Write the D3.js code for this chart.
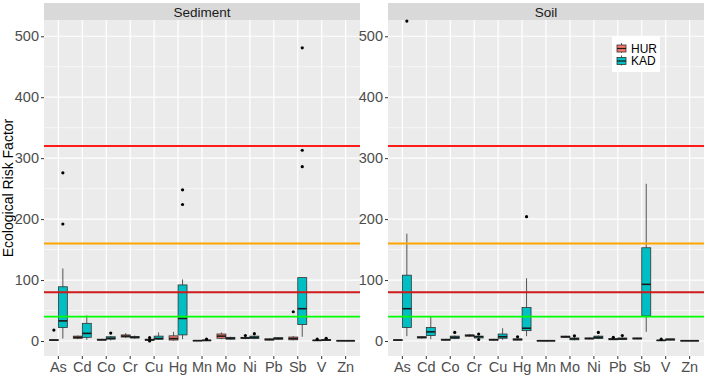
<!DOCTYPE html>
<html>
<head>
<meta charset="utf-8">
<script src="https://cdn.jsdelivr.net/npm/d3@7"></script>
<style>
  body { margin: 0; background: #fff; }
  text { font-family: "Liberation Sans", Arial, sans-serif; }
</style>
</head>
<body>
<svg width="706" height="377"></svg>
<script>
// elements on x axis
var elements = ["As", "Cd", "Co", "Cr", "Cu", "Hg", "Mn", "Mo", "Ni", "Pb", "Sb", "V", "Zn"];
var groups = ["HUR", "KAD"];
var facets = ["Sediment", "Soil"];

// box stats per element: [lower whisker, q1, median, q3, upper whisker]
var sedHUR = [[0.5,1,1.5,2,2.5],[3,4.5,6,8,9],[1,1.5,2,3,3.5],[5,6.5,8,10,13],[0.5,1,2,3,4],[0.5,1.6,4,8.5,15],
  [0,0.3,0.6,1,1.5],[3,4.5,8,11.5,14],[3,4,5,6,7],[1,1.5,2.5,3.5,4],[1,2,4,6.5,8],[0.3,0.6,1,1.4,2],[0.2,0.4,0.5,0.7,0.9]];
var sedKAD = [[4,22,33,89,119],[2,6,12.5,29,42],[1,3,4.5,7,8],[4,5,6,7.5,9],[2,3,4,8,14],[3,10,37,92,101],
  [0,0.5,1,1.5,2],[2,3,4.5,6,7],[3,4,6,8,9],[2,3,4,5.5,6],[7,27,53,104,104],[0.5,1,1.5,2.5,3],[0.2,0.4,0.5,0.7,0.9]];
var soilHUR = [[0.5,1,1.5,2,3],[4,5,6,7,7.5],[1,1.5,2,3,3.5],[7,8,9,10,11.5],[1,1.5,2,3,3.5],[1,1.5,2.5,3.5,4],
  [0.2,0.3,0.5,0.7,1],[5,6,7,8,8.5],[3,3.5,4,5,5.5],[1.5,2,3,4,4.5],[3,3.5,4,5,5.5],[0.3,0.6,1,1.4,2],[0.2,0.4,0.5,0.7,0.9]];
var soilKAD = [[8,22,53,108,176],[3,9,15,22,40],[3,4,6,8,9],[4,5,7,8,9],[2,4.5,7,11.5,21],[8,17,21,55,103],
  [0.2,0.3,0.5,0.7,1],[1,2,3.5,5,6],[3,4,6,8,9],[1.5,2.5,3.5,5,6],[15,41,93,153,258],[1,1.5,2.5,3.5,4],[0.2,0.4,0.5,0.7,0.9]];

// outliers per element
var sedHUROut = [[18],[],[],[],[0,5.5],[],[],[],[9],[],[48],[3],[]];
var sedKADOut = [[192,276],[],[13],[],[],[224,248],[3],[],[12],[],[286,313,481],[4.5],[]];
var soilHUROut = [[],[],[],[],[],[7],[],[],[],[6],[],[3],[]];
var soilKADOut = [[525],[],[14],[11.5,2.5],[],[204],[],[8.5],[14],[9],[],[],[]];

// horizontal reference lines
var refValues = [320, 160, 80, 40];
var refColors = ["#FF1A1A", "#FFA500", "#D01A1A", "#00FF00"];

var yTicks = [0, 100, 200, 300, 400, 500];
var yMinor = [50, 150, 250, 350, 450];

var groupColors = {HUR: "#F8766D", KAD: "#00BFC4"};

var svg = d3.select("svg");

var panelTop = 20, panelBottom = 356, stripTop = 3;
var panels = [{name: "Sediment", x0: 44, x1: 360, data: {HUR: sedHUR, KAD: sedKAD}, out: {HUR: sedHUROut, KAD: sedKADOut}},
              {name: "Soil", x0: 388, x1: 704, data: {HUR: soilHUR, KAD: soilKAD}, out: {HUR: soilHUROut, KAD: soilKADOut}}];

var y = d3.scaleLinear().domain([-24.6, 526.7]).range([panelBottom, panelTop]);

panels.forEach(function(p, pi) {
  var g = svg.append("g");

  var x = d3.scaleBand().domain(elements).range([p.x0, p.x1]).paddingOuter(0.1).paddingInner(0);
  var xg = d3.scaleBand().domain(groups).range([0, x.bandwidth() * 0.75]);

  // strip
  g.append("rect").attr("x", p.x0).attr("y", stripTop).attr("width", p.x1 - p.x0).attr("height", panelTop - stripTop)
    .attr("fill", "#D9D9D9");
  g.append("text").attr("x", (p.x0 + p.x1) / 2).attr("y", (stripTop + panelTop) / 2 + 5)
    .attr("text-anchor", "middle").attr("font-size", 13.5).attr("fill", "#1A1A1A").text(p.name);

  // panel
  g.append("rect").attr("x", p.x0).attr("y", panelTop).attr("width", p.x1 - p.x0).attr("height", panelBottom - panelTop)
    .attr("fill", "#EBEBEB");

  g.selectAll(".minor").data(yMinor).enter().append("line")
    .attr("x1", p.x0).attr("x2", p.x1).attr("y1", y).attr("y2", y)
    .attr("stroke", "#fff").attr("stroke-width", 0.6);
  g.selectAll(".major").data(yTicks).enter().append("line")
    .attr("x1", p.x0).attr("x2", p.x1).attr("y1", y).attr("y2", y)
    .attr("stroke", "#fff").attr("stroke-width", 1.2);
  g.selectAll(".vmajor").data(elements).enter().append("line")
    .attr("x1", function(d) { return x(d) + x.bandwidth() / 2; })
    .attr("x2", function(d) { return x(d) + x.bandwidth() / 2; })
    .attr("y1", panelTop).attr("y2", panelBottom)
    .attr("stroke", "#fff").attr("stroke-width", 1.2);

  // y axis
  var yAxis = d3.axisLeft(y).tickValues(yTicks).tickSize(3).tickPadding(2);
  var ya = g.append("g").attr("transform", "translate(" + p.x0 + ",0)").call(yAxis);
  ya.select(".domain").remove();
  ya.selectAll("line").attr("stroke", "#333");
  ya.selectAll("text").attr("font-size", 14.5).attr("fill", "#4D4D4D").style("font-family", "Liberation Sans, Arial, sans-serif");

  // x axis
  var xAxis = d3.axisBottom(x).tickSize(3).tickPadding(3);
  var xa = g.append("g").attr("transform", "translate(0," + panelBottom + ")").call(xAxis);
  xa.select(".domain").remove();
  xa.selectAll("line").attr("stroke", "#333");
  xa.selectAll("text").attr("font-size", 14.5).attr("fill", "#4D4D4D").style("font-family", "Liberation Sans, Arial, sans-serif");

  // boxes
  groups.forEach(function(grp) {
    elements.forEach(function(el, i) {
      var s = p.data[grp][i];
      var bx = x(el) + x.bandwidth() * 0.125 + xg(grp);
      var bw = xg.bandwidth();
      var cx = bx + bw / 2;
      g.append("line").attr("x1", cx).attr("x2", cx).attr("y1", y(s[0])).attr("y2", y(s[4]))
        .attr("stroke", "#555").attr("stroke-width", 1);
      g.append("rect").attr("x", bx).attr("width", bw).attr("y", y(s[3]))
        .attr("height", Math.max(y(s[1]) - y(s[3]), 0.5))
        .attr("fill", groupColors[grp]).attr("stroke", "#333").attr("stroke-width", 0.8);
      g.append("line").attr("x1", bx).attr("x2", bx + bw).attr("y1", y(s[2])).attr("y2", y(s[2]))
        .attr("stroke", "#1A1A1A").attr("stroke-width", 1.6);
      g.selectAll(null).data(p.out[grp][i]).enter().append("circle")
        .attr("cx", cx).attr("cy", function(d) { return y(d); }).attr("r", 1.6).attr("fill", "#000");
    });
  });

  // reference lines
  g.selectAll(".ref").data(refValues).enter().append("line")
    .attr("x1", p.x0).attr("x2", p.x1).attr("y1", y).attr("y2", y)
    .attr("stroke", function(d, i) { return refColors[i]; }).attr("stroke-width", 1.8);

  // legend inside soil panel
  if (pi === 1) {
    var lg = svg.append("g").attr("transform", "translate(612,36)");
    lg.append("rect").attr("width", 48).attr("height", 36).attr("fill", "#fff");
    groups.forEach(function(grp, k) {
      var ky = 8 + k * 12.5;
      lg.append("line").attr("x1", 9.5).attr("x2", 9.5).attr("y1", ky - 1).attr("y2", ky + 9).attr("stroke", "#555");
      lg.append("rect").attr("x", 5).attr("y", ky + 1).attr("width", 9).attr("height", 7)
        .attr("fill", groupColors[grp]).attr("stroke", "#333").attr("stroke-width", 0.8);
      lg.append("line").attr("x1", 5).attr("x2", 14).attr("y1", ky + 4.5).attr("y2", ky + 4.5)
        .attr("stroke", "#1A1A1A").attr("stroke-width", 1.2);
      lg.append("text").attr("x", 19).attr("y", ky + 8.5).attr("font-size", 12).attr("fill", "#000").text(grp);
    });
  }
});

// y axis title
svg.append("text").attr("transform", "translate(13," + ((panelTop + panelBottom) / 2) + ") rotate(-90)")
  .attr("text-anchor", "middle").attr("font-size", 14).attr("fill", "#000").text("Ecological Risk Factor");
</script>
</body>
</html>
